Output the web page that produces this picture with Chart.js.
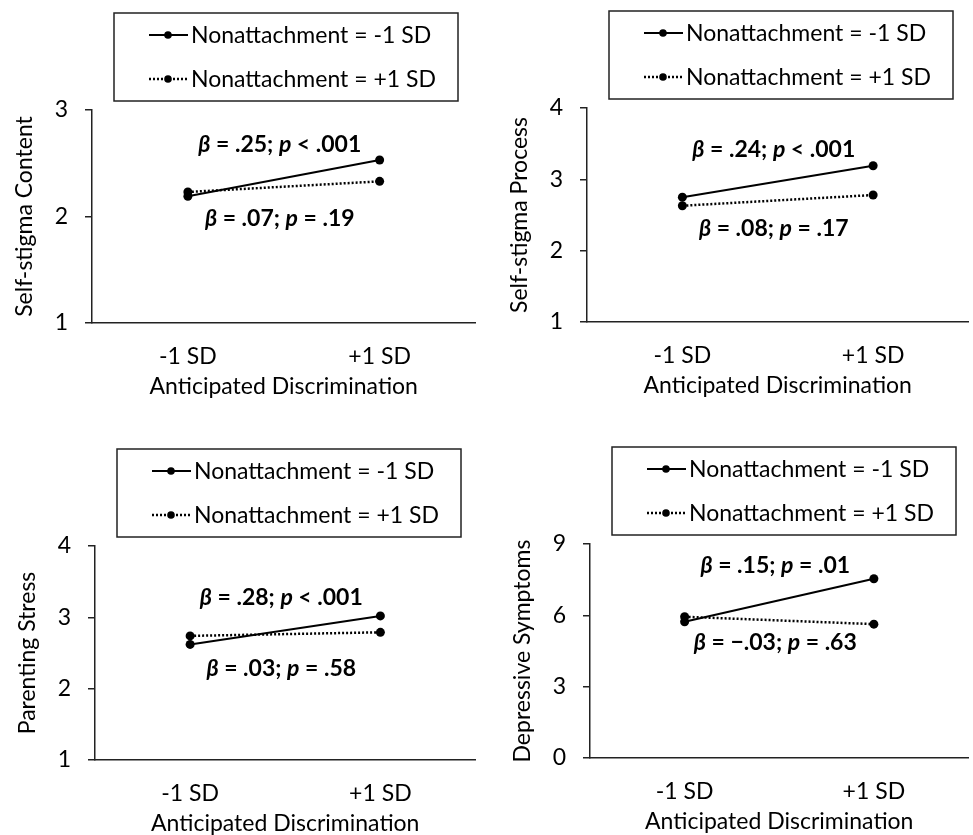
<!DOCTYPE html>
<html>
<head>
<meta charset="utf-8">
<script src="https://cdn.jsdelivr.net/npm/chart.js@4.4.1/dist/chart.umd.min.js"></script>
<style>
  html, body { margin: 0; padding: 0; background: #fff; overflow: hidden; }
  #wrap { position: relative; width: 973px; height: 835px; }
  canvas { position: absolute; }
</style>
</head>
<body>
<div id="wrap">
  <canvas id="c1" width="480" height="420" style="left:0;top:0"></canvas>
  <canvas id="c2" width="493" height="420" style="left:480px;top:0"></canvas>
  <canvas id="c3" width="480" height="420" style="left:0;top:420px"></canvas>
  <canvas id="c4" width="493" height="420" style="left:480px;top:420px"></canvas>
</div>
<script>
// data
const categories = ['-1 SD', '+1 SD'];
const seriesNames = ['Nonattachment = -1 SD', 'Nonattachment = +1 SD'];
const xTitle = 'Anticipated Discrimination';

const contentLow = [2.19, 2.53];
const contentHigh = [2.23, 2.33];
const contentSlopes = ['β = .25; p < .001', 'β = .07; p = .19'];

const processLow = [2.75, 3.19];
const processHigh = [2.63, 2.78];
const processSlopes = ['β = .24; p < .001', 'β = .08; p = .17'];

const stressLow = [2.62, 3.02];
const stressHigh = [2.74, 2.79];
const stressSlopes = ['β = .28; p < .001', 'β = .03; p = .58'];

const depressLow = [5.73, 7.54];
const depressHigh = [5.94, 5.63];
const depressSlopes = ['β = .15; p = .01', 'β = \u2212.03; p = .63'];

const FONT = 'Lato';
const FS = 23;
Chart.defaults.font.family = FONT;
Chart.defaults.font.size = FS;
Chart.defaults.color = '#000';

// boxed legend above the plot, line sample with a dot in the middle
const legendBox = {
  id: 'legendBox',
  afterDraw(chart) {
    const { ctx, chartArea } = chart;
    const w = 344, h = 88;
    const x = chartArea.left + 22, y = chartArea.top - 9 - h;
    ctx.save();
    ctx.strokeStyle = '#222';
    ctx.lineWidth = 1.5;
    ctx.strokeRect(x, y, w, h);
    chart.data.datasets.forEach((ds, i) => {
      const cy = y + h * (2 * i + 1) / 4;
      ctx.strokeStyle = '#000';
      ctx.fillStyle = '#000';
      ctx.lineWidth = ds.borderWidth;
      ctx.setLineDash(ds.borderDash || []);
      ctx.beginPath();
      ctx.moveTo(x + 35, cy);
      ctx.lineTo(x + 74, cy);
      ctx.stroke();
      ctx.setLineDash([]);
      ctx.beginPath();
      ctx.arc(x + 54, cy, 3.8, 0, Math.PI * 2);
      ctx.fill();
      ctx.font = FS + 'px ' + FONT;
      ctx.textBaseline = 'middle';
      ctx.textAlign = 'left';
      ctx.fillText(ds.label, x + 77, cy + 1);
    });
    ctx.restore();
  }
};

// slope labels: β and p italic, the rest bold
const slopeLabels = {
  id: 'slopeLabels',
  afterDatasetsDraw(chart, args, opts) {
    const { ctx } = chart;
    ctx.save();
    ctx.fillStyle = '#000';
    ctx.textBaseline = 'middle';
    ctx.textAlign = 'left';
    opts.texts.forEach((txt, i) => {
      const pts = chart.getDatasetMeta(i).data;
      const cx = (pts[0].x + pts[1].x) / 2 - 4;
      const cy = (pts[0].y + pts[1].y) / 2 + opts.offsets[i];
      const parts = txt.split(/(β|p)/).filter(s => s.length);
      const fontOf = s => (s === 'β' || s === 'p' ? 'italic ' : '') + 'bold ' + FS + 'px ' + FONT;
      let total = 0;
      parts.forEach(s => { ctx.font = fontOf(s); total += ctx.measureText(s).width; });
      let px = cx - total / 2;
      parts.forEach(s => {
        ctx.font = fontOf(s);
        ctx.fillText(s, px, cy);
        px += ctx.measureText(s).width;
      });
    });
    ctx.restore();
  }
};

function makePanel(id, yTitle, yMin, yMax, yStep, low, high, slopes, offsets, pad) {
  new Chart(document.getElementById(id), {
    type: 'line',
    data: {
      labels: categories,
      datasets: [{
        label: seriesNames[0],
        data: low,
        borderColor: '#000',
        backgroundColor: '#000',
        borderWidth: 2,
        pointRadius: 4.5,
        pointBorderWidth: 0
      }, {
        label: seriesNames[1],
        data: high,
        borderColor: '#000',
        backgroundColor: '#000',
        borderWidth: 2.5,
        borderDash: [2, 2],
        pointRadius: 4.5,
        pointBorderWidth: 0
      }]
    },
    options: {
      responsive: false,
      animation: false,
      devicePixelRatio: 1,
      layout: { padding: pad },
      plugins: {
        legend: { display: false },
        tooltip: { enabled: false },
        slopeLabels: { texts: slopes, offsets: offsets }
      },
      scales: {
        x: {
          type: 'category',
          offset: true,
          grid: { display: false, drawTicks: false },
          border: { display: true, color: '#222', width: 1.5 },
          ticks: { padding: 20 },
          title: { display: true, text: xTitle, padding: { top: 0, bottom: 3 } },
          afterFit(s) { s.height = 80; }
        },
        y: {
          min: yMin,
          max: yMax,
          ticks: { stepSize: yStep, padding: 17 },
          grid: { drawOnChartArea: false, drawTicks: true, tickLength: 7, color: '#222', lineWidth: 1.5 },
          border: { display: true, color: '#222', width: 1.5 },
          title: { display: true, text: yTitle, padding: { top: 11, bottom: 0 } },
          afterFit(s) { s.width = 92; }
        }
      }
    },
    plugins: [legendBox, slopeLabels]
  });
}

makePanel('c1', 'Self-stigma Content', 1, 3, 1, contentLow, contentHigh, contentSlopes, [-34, 32],
  { left: 0, right: 2, top: 110, bottom: 17 });
makePanel('c2', 'Self-stigma Process', 1, 4, 1, processLow, processHigh, processSlopes, [-32, 28],
  { left: 15, right: 2, top: 108, bottom: 18 });
makePanel('c3', 'Parenting Stress', 1, 4, 1, stressLow, stressHigh, stressSlopes, [-33, 34],
  { left: 3, right: 1, top: 126, bottom: 0 });
makePanel('c4', 'Depressive Symptoms', 0, 9, 3, depressLow, depressHigh, depressSlopes, [-35, 22],
  { left: 18, right: 0, top: 124, bottom: 2 });
</script>
</body>
</html>
